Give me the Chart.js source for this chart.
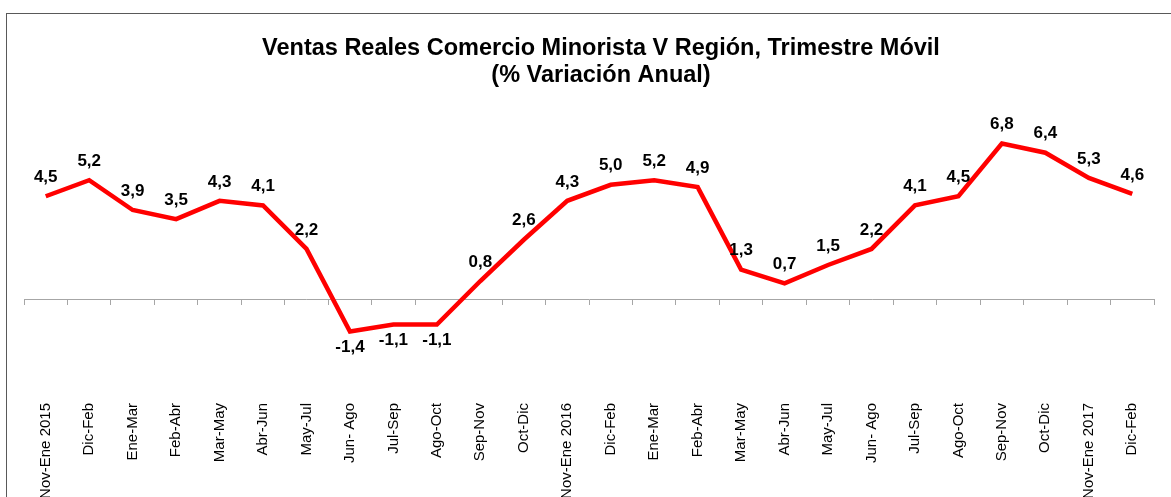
<!DOCTYPE html>
<html>
<head>
<meta charset="utf-8">
<script src="https://cdn.jsdelivr.net/npm/chart.js@4/dist/chart.umd.min.js"></script>
<style>
    html, body { margin: 0; padding: 0; background: #ffffff; overflow: hidden; }
    #frame {
        position: absolute;
        left: 6px;
        top: 13px;
        width: 1190px;
        height: 560px;
        border: 1px solid #595959;
    }
    #wrap { position: absolute; left: 0; top: 0; width: 1190px; height: 520px; }
</style>
</head>
<body>
<div id="frame">
    <div id="wrap"><canvas id="lineChart"></canvas></div>
</div>
<script>
const categories = [
    "Nov-Ene 2015", "Dic-Feb", "Ene-Mar", "Feb-Abr", "Mar-May", "Abr-Jun", "May-Jul",
    "Jun- Ago", "Jul-Sep", "Ago-Oct", "Sep-Nov", "Oct-Dic", "Nov-Ene 2016", "Dic-Feb",
    "Ene-Mar", "Feb-Abr", "Mar-May", "Abr-Jun", "May-Jul", "Jun- Ago", "Jul-Sep",
    "Ago-Oct", "Sep-Nov", "Oct-Dic", "Nov-Ene 2017", "Dic-Feb"
];

const variacion = [
    4.5, 5.2, 3.9, 3.5, 4.3, 4.1, 2.2, -1.4, -1.1, -1.1, 0.8, 2.6, 4.3,
    5.0, 5.2, 4.9, 1.3, 0.7, 1.5, 2.2, 4.1, 4.5, 6.8, 6.4, 5.3, 4.6
];

const titleLines = [
    "Ventas Reales Comercio Minorista V Región, Trimestre Móvil",
    "(% Variación Anual)"
];

const yMin = -4;
const yMax = 8;

const fontFamily = "'Liberation Sans', Arial, sans-serif";
const axisGray = "#a6a6a6";

// etiquetas de valor sobre / bajo cada punto
const valueLabels = {
    id: "valueLabels",
    afterDatasetsDraw(chart) {
        const ctx = chart.ctx;
        const meta = chart.getDatasetMeta(0);
        const values = chart.data.datasets[0].data;
        ctx.save();
        ctx.font = "bold 17px " + fontFamily;
        ctx.fillStyle = "#000000";
        ctx.textAlign = "center";
        ctx.textBaseline = "middle";
        meta.data.forEach((pt, i) => {
            const v = values[i];
            const txt = v.toFixed(1).replace(".", ",");
            const y = v < 0 ? pt.y + 16 : pt.y - 19;
            ctx.fillText(txt, pt.x, y);
        });
        ctx.restore();
    }
};

document.addEventListener("DOMContentLoaded", function () {
    const lineCanvas = document.getElementById("lineChart");
    const lineCtx = lineCanvas.getContext("2d");

    new Chart(lineCtx, {
        type: "line",
        data: {
            labels: categories,
            datasets: [
                {
                    label: "Variación anual",
                    data: variacion,
                    borderColor: "#ff0000",
                    backgroundColor: "#ff0000",
                    borderWidth: 4.5,
                    borderJoinStyle: "miter",
                    pointRadius: 0,
                    pointHoverRadius: 0,
                    tension: 0,
                    fill: false,
                    clip: false,
                },
            ],
        },
        options: {
            responsive: true,
            maintainAspectRatio: false,
            animation: false,
            layout: {
                padding: { left: 17, right: 19, top: 0, bottom: 0 },
            },
            plugins: {
                legend: { display: false },
                tooltip: { enabled: false },
                title: {
                    display: true,
                    text: titleLines,
                    color: "#000000",
                    font: { family: fontFamily, size: 23.5, weight: "bold", lineHeight: 1.15 },
                    padding: { top: 21, bottom: 27 },
                },
            },
            scales: {
                x: {
                    type: "category",
                    position: { y: 0 },
                    offset: true,
                    grid: {
                        offset: true,
                        drawOnChartArea: false,
                        drawTicks: true,
                        tickLength: 5,
                        color: axisGray,
                    },
                    border: { display: true, color: axisGray, width: 1 },
                    ticks: { display: false },
                },
                x2: {
                    type: "category",
                    position: "bottom",
                    offset: true,
                    grid: { display: false, drawTicks: false },
                    border: { display: false },
                    ticks: {
                        color: "#000000",
                        font: { family: fontFamily, size: 15 },
                        minRotation: 90,
                        maxRotation: 90,
                        autoSkip: false,
                        padding: 12,
                    },
                    afterFit(scale) {
                        scale.height = 143;
                    },
                },
                y: {
                    position: "right",
                    min: yMin,
                    max: yMax,
                    grid: { display: false, drawTicks: false },
                    border: { display: false },
                    ticks: { display: false },
                    afterFit(scale) {
                        scale.width = 24;
                    },
                },
            },
        },
        plugins: [valueLabels],
    });
});
</script>
</body>
</html>
